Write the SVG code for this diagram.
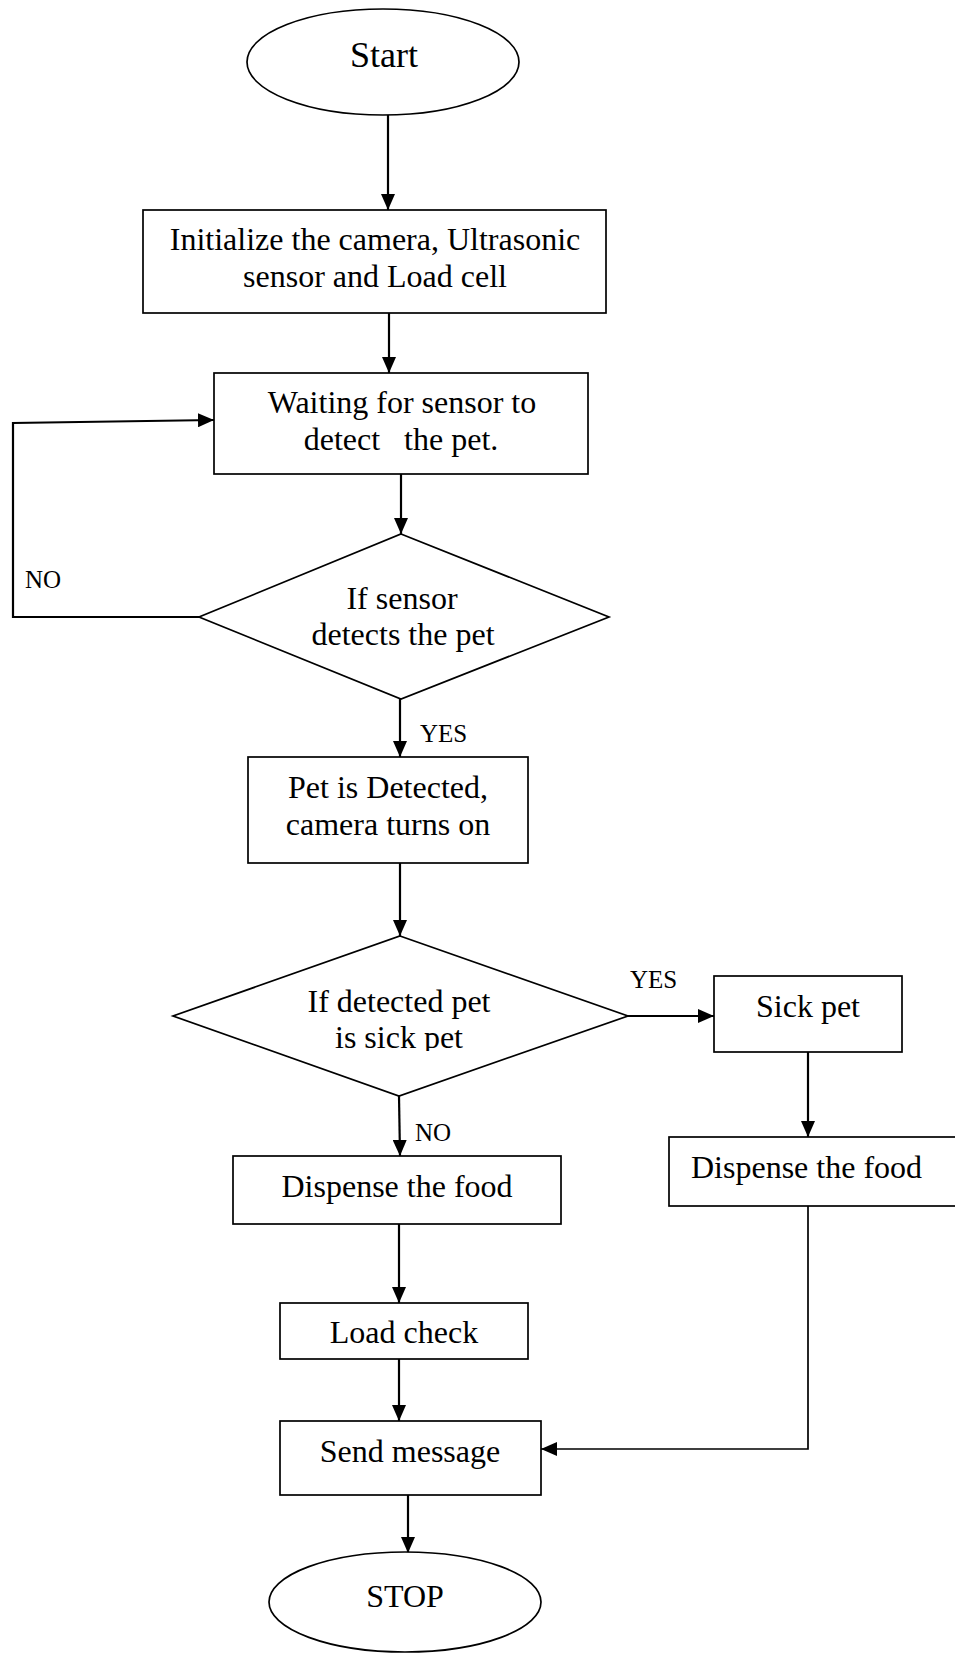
<svg xmlns="http://www.w3.org/2000/svg" width="955" height="1654" viewBox="0 0 955 1654">
<style>
.s{fill:#fff;stroke:#000;stroke-width:1.7}
.t{font-family:"Liberation Serif","Times New Roman",serif;font-size:32px;fill:#000;text-anchor:middle}
.l{font-family:"Liberation Serif","Times New Roman",serif;font-size:25px;fill:#000}
.c{fill:none;stroke:#000;stroke-width:2.2}
</style>
<defs>
<marker id="ah" markerUnits="userSpaceOnUse" markerWidth="16" markerHeight="14" refX="16" refY="7" orient="auto">
<path d="M0,0 L16,7 L0,14 z" fill="#000"/>
</marker>
<clipPath id="clipd2"><rect x="170" y="960" width="460" height="91"/></clipPath>
</defs>
<rect width="955" height="1654" fill="#fff"/>
<g id="connectors">
<line class="c" x1="388" y1="115" x2="388" y2="210" marker-end="url(#ah)"/>
<line class="c" x1="389" y1="313" x2="389" y2="373" marker-end="url(#ah)"/>
<line class="c" x1="401" y1="474" x2="401" y2="534" marker-end="url(#ah)"/>
<line class="c" x1="400" y1="699" x2="400" y2="757" marker-end="url(#ah)"/>
<polyline class="c" points="199,617 13,617 13,423 214,420" marker-end="url(#ah)"/>
<line class="c" x1="400" y1="863" x2="400" y2="936" marker-end="url(#ah)"/>
<line class="c" x1="628" y1="1016" x2="714" y2="1016" marker-end="url(#ah)"/>
<line class="c" x1="399" y1="1096" x2="400" y2="1156" marker-end="url(#ah)"/>
<line class="c" x1="808" y1="1052" x2="808" y2="1137" marker-end="url(#ah)"/>
<line class="c" x1="399" y1="1224" x2="399" y2="1303" marker-end="url(#ah)"/>
<line class="c" x1="399" y1="1359" x2="399" y2="1421" marker-end="url(#ah)"/>
<polyline class="c" style="stroke-width:1.7" points="808,1206 808,1449 541,1449" marker-end="url(#ah)"/>
<line class="c" x1="408" y1="1495" x2="408" y2="1553" marker-end="url(#ah)"/>
<text class="l" x="25" y="588">NO</text>
<text class="l" x="420" y="742">YES</text>
<text class="l" x="630" y="988">YES</text>
<text class="l" x="415" y="1141">NO</text>
</g>
<g id="start">
<ellipse class="s" cx="383" cy="62" rx="136" ry="53"/>
<text class="t" x="384" y="67" style="font-size:36px">Start</text>
</g>
<g id="init">
<rect class="s" x="143" y="210" width="463" height="103"/>
<text class="t" x="375" y="250">Initialize the camera, Ultrasonic</text>
<text class="t" x="375" y="287">sensor and Load cell</text>
</g>
<g id="waiting">
<rect class="s" x="214" y="373" width="374" height="101"/>
<text class="t" x="402" y="413">Waiting for sensor to</text>
<text class="t" x="401" y="450" xml:space="preserve">detect   the pet.</text>
</g>
<g id="decision1">
<polygon class="s" points="401,534 609,617 401,699 199,617"/>
<text class="t" x="402" y="609">If sensor</text>
<text class="t" x="403" y="645">detects the pet</text>
</g>
<g id="detected">
<rect class="s" x="248" y="757" width="280" height="106"/>
<text class="t" x="388" y="798">Pet is Detected,</text>
<text class="t" x="388" y="835">camera turns on</text>
</g>
<g id="decision2">
<polygon class="s" points="400,936 628,1016 399,1096 173,1016"/>
<g clip-path="url(#clipd2)">
<text class="t" x="399" y="1012">If detected pet</text>
<text class="t" x="399" y="1048">is sick pet</text>
</g>
</g>
<g id="sickpet">
<rect class="s" x="714" y="976" width="188" height="76"/>
<text class="t" x="808" y="1017">Sick pet</text>
</g>
<g id="dispense-right">
<rect class="s" x="669" y="1137" width="292" height="69"/>
<text class="t" x="691" y="1178" style="text-anchor:start">Dispense the food</text>
</g>
<g id="dispense-left">
<rect class="s" x="233" y="1156" width="328" height="68"/>
<text class="t" x="397" y="1197">Dispense the food</text>
</g>
<g id="loadcheck">
<rect class="s" x="280" y="1303" width="248" height="56"/>
<text class="t" x="404" y="1343">Load check</text>
</g>
<g id="sendmessage">
<rect class="s" x="280" y="1421" width="261" height="74"/>
<text class="t" x="410" y="1462">Send message</text>
</g>
<g id="stop">
<ellipse class="s" cx="405" cy="1602" rx="136" ry="50"/>
<text class="t" x="405" y="1607">STOP</text>
</g>
</svg>
